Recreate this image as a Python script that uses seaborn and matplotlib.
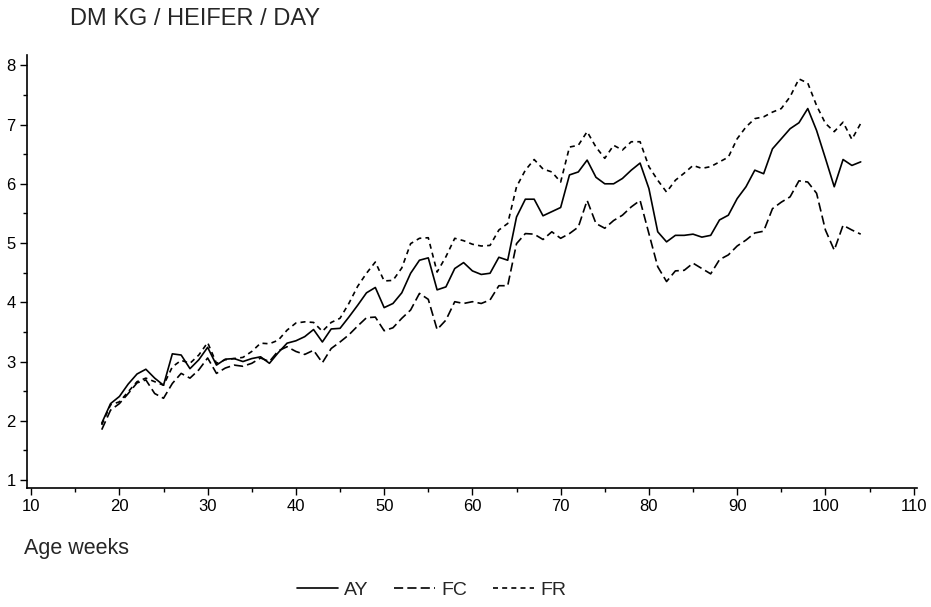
import numpy as np
import pandas as pd
import matplotlib
matplotlib.use("Agg")
import matplotlib.pyplot as plt
from matplotlib.ticker import MultipleLocator
import seaborn as sns

# Daily dry-matter intake per heifer, weekly means by age
weeks = list(range(18, 105))

ay = [1.96, 2.29, 2.41, 2.62, 2.79, 2.87, 2.72, 2.60, 3.13, 3.11,
      2.88, 3.03, 3.24, 2.94, 3.04, 3.05, 3.00, 3.05, 3.08, 2.97,
      3.15, 3.31, 3.35, 3.42, 3.54, 3.33, 3.55, 3.56, 3.75, 3.95,
      4.16, 4.25, 3.91, 3.98, 4.16, 4.49, 4.71, 4.75, 4.21, 4.26,
      4.57, 4.67, 4.53, 4.47, 4.49, 4.76, 4.71, 5.44, 5.74, 5.74,
      5.46, 5.53, 5.60, 6.15, 6.20, 6.40, 6.11, 6.00, 6.00, 6.09,
      6.23, 6.35, 5.92, 5.19, 5.02, 5.13, 5.13, 5.15, 5.10, 5.13,
      5.39, 5.47, 5.75, 5.95, 6.23, 6.17, 6.59, 6.76, 6.93, 7.03,
      7.27, 6.90, 6.43, 5.95, 6.41, 6.31, 6.37]

fc = [1.85, 2.18, 2.29, 2.46, 2.64, 2.69, 2.46, 2.38, 2.63, 2.80,
      2.72, 2.86, 3.06, 2.80, 2.89, 2.94, 2.92, 2.97, 3.06, 3.00,
      3.18, 3.25, 3.17, 3.12, 3.19, 2.98, 3.22, 3.33, 3.45, 3.60,
      3.74, 3.75, 3.52, 3.57, 3.73, 3.87, 4.15, 4.05, 3.54, 3.70,
      4.01, 3.98, 4.01, 3.98, 4.04, 4.28, 4.28, 4.99, 5.16, 5.15,
      5.06, 5.19, 5.08, 5.16, 5.27, 5.72, 5.33, 5.25, 5.38, 5.47,
      5.61, 5.72, 5.16, 4.60, 4.35, 4.53, 4.54, 4.66, 4.57, 4.48,
      4.72, 4.80, 4.95, 5.05, 5.17, 5.20, 5.58, 5.69, 5.78, 6.05,
      6.03, 5.84, 5.22, 4.88, 5.30, 5.22, 5.15]

fr = [1.93, 2.27, 2.32, 2.49, 2.66, 2.72, 2.66, 2.60, 2.91, 3.02,
      2.97, 3.11, 3.32, 2.97, 3.03, 3.05, 3.07, 3.17, 3.31, 3.30,
      3.36, 3.53, 3.65, 3.67, 3.66, 3.51, 3.66, 3.73, 3.98, 4.27,
      4.49, 4.68, 4.36, 4.37, 4.58, 4.99, 5.08, 5.09, 4.51, 4.77,
      5.08, 5.04, 4.98, 4.95, 4.96, 5.22, 5.33, 5.95, 6.23, 6.41,
      6.25, 6.20, 6.03, 6.62, 6.65, 6.88, 6.62, 6.43, 6.65, 6.57,
      6.71, 6.71, 6.29, 6.06, 5.86, 6.06, 6.18, 6.31, 6.26, 6.29,
      6.37, 6.45, 6.76, 6.96, 7.10, 7.13, 7.21, 7.27, 7.47, 7.77,
      7.70, 7.32, 7.02, 6.88, 7.04, 6.75, 7.02]

groups = ["AY", "FC", "FR"]
x_ticks = list(range(10, 111, 10))
y_ticks = list(range(1, 9))

df = pd.DataFrame({
    "week": weeks * 3,
    "dm": ay + fc + fr,
    "group": ["AY"] * len(weeks) + ["FC"] * len(weeks) + ["FR"] * len(weeks),
})

sns.set_theme(style="ticks")
plt.rcParams["font.family"] = ["Liberation Sans", "DejaVu Sans"]

fig = plt.figure(figsize=(9.31, 6.07), dpi=100)
ax = fig.add_axes([0.0287, 0.196, 0.956, 0.713])

sns.lineplot(
    data=df, x="week", y="dm", hue="group", style="group",
    hue_order=groups, style_order=groups,
    palette={"AY": "black", "FC": "black", "FR": "black"},
    dashes={"AY": "", "FC": (5.5, 2.5), "FR": (3, 2.5)},
    linewidth=1.2, ax=ax, legend=True,
)

ax.set_xlim(9.5, 110.35)
ax.set_ylim(0.865, 8.17)
ax.set_xticks(x_ticks)
ax.set_yticks(y_ticks)
ax.xaxis.set_minor_locator(MultipleLocator(5))
ax.yaxis.set_minor_locator(MultipleLocator(0.5))
ax.tick_params(axis="both", which="major", direction="out", length=5,
               width=1, colors="black", labelsize=12, pad=3)
ax.tick_params(axis="both", which="minor", direction="out", length=3,
               width=1, colors="black")
ax.set_xlabel("")
ax.set_ylabel("")
sns.despine(ax=ax)
for side in ("left", "bottom"):
    ax.spines[side].set_color("black")
    ax.spines[side].set_linewidth(1.2)

fig.text(0.075, 0.968, "DM KG / HEIFER / DAY", fontsize=17,
         va="center", ha="left")
fig.text(0.026, 0.097, "Age weeks", fontsize=15.5,
         va="center", ha="left")

sns.move_legend(ax, "center", bbox_to_anchor=(0.455, -0.235), ncol=3,
                frameon=False, title=None, fontsize=14, handlelength=2.1,
                columnspacing=1.3, handletextpad=0.35)

fig.savefig("out.png", dpi=100, facecolor="white")
